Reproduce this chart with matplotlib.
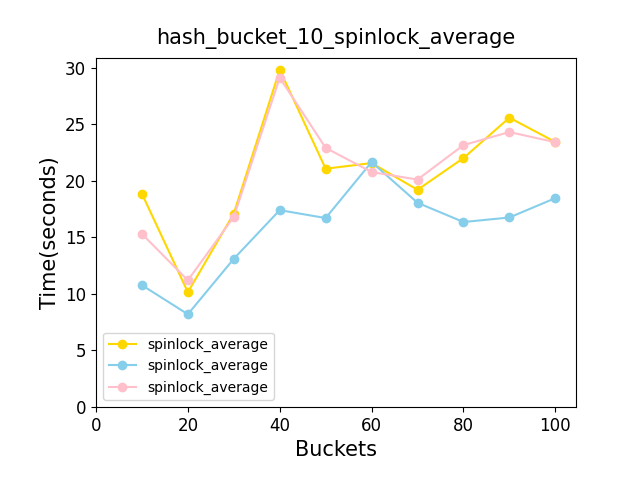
import matplotlib
matplotlib.use("Agg")
import matplotlib.pyplot as plt

buckets = [10, 20, 30, 40, 50, 60, 70, 80, 90, 100]
yellow = [18.85, 10.15, 17.1, 29.8, 21.06, 21.56, 19.2, 22.0, 25.57, 23.42]
blue = [10.77, 8.2, 13.1, 17.4, 16.7, 21.65, 18.05, 16.35, 16.75, 18.46]
pink = [15.3, 11.2, 16.8, 29.1, 22.9, 20.77, 20.1, 23.15, 24.3, 23.4]
labels = ["spinlock_average", "spinlock_average", "spinlock_average"]

fig, ax = plt.subplots(figsize=(6.4, 4.8), dpi=100)
fig.subplots_adjust(left=0.15, right=0.9, top=0.88, bottom=0.152)
ax.plot(buckets, yellow, marker="o", color="gold", label=labels[0])
ax.plot(buckets, blue, marker="o", color="skyblue", label=labels[1])
ax.plot(buckets, pink, marker="o", color="pink", label=labels[2])
ax.set_xlim(left=0)
ax.set_ylim(bottom=0)
ax.set_title("hash_bucket_10_spinlock_average", fontsize=15, pad=10)
ax.set_xlabel("Buckets", fontsize=15)
ax.set_ylabel("Time(seconds)", fontsize=15)
ax.tick_params(labelsize=12)
ax.legend(loc="lower left", fontsize=10)
fig.savefig("out.png", dpi=100)
